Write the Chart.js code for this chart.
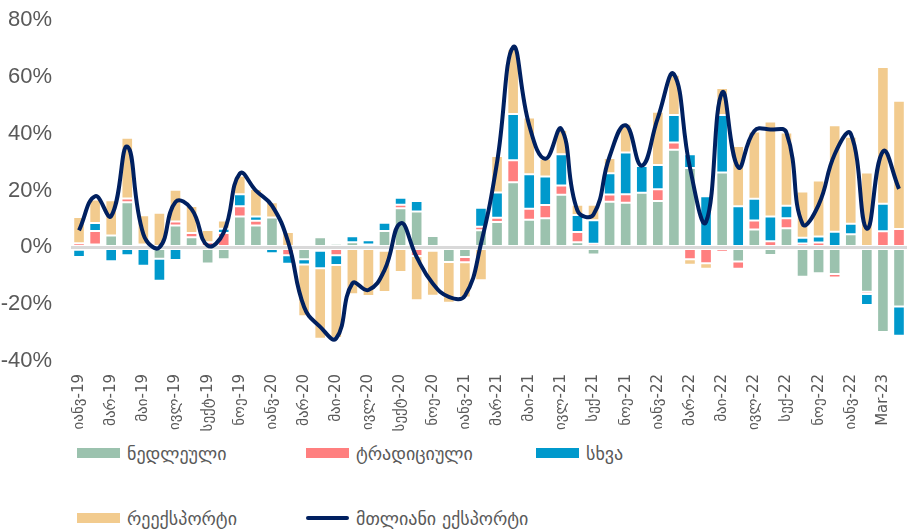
<!DOCTYPE html>
<html>
<head>
<meta charset="utf-8">
<script src="https://cdn.jsdelivr.net/npm/chart.js@4"></script>
<style>
  body { margin: 0; background: #fff; }
  #wrap { position: relative; width: 907px; height: 532px; overflow: hidden; }
  #chartBox { position: absolute; left: 0; top: -12px; width: 922px; height: 452px; }
  #legend { position: absolute; left: 0; top: 440px; width: 907px; height: 92px;
            font-family: 'DejaVu Sans', sans-serif; font-size: 18px; color: #595959; }
  .item { position: absolute; display: flex; align-items: center; height: 24px; white-space: nowrap; }
  .swatch { width: 43px; height: 10px; margin-right: 7px; }
  .swatch.line { height: 4px; border-radius: 2px; }
</style>
</head>
<body>
<div id="wrap">
  <div id="chartBox"><canvas id="exportChart"></canvas></div>
  <div id="legend"></div>
</div>
<script>
// months Jan-2019 .. Apr-2023
const months = [
  '19-01','19-02','19-03','19-04','19-05','19-06','19-07','19-08','19-09','19-10','19-11','19-12',
  '20-01','20-02','20-03','20-04','20-05','20-06','20-07','20-08','20-09','20-10','20-11','20-12',
  '21-01','21-02','21-03','21-04','21-05','21-06','21-07','21-08','21-09','21-10','21-11','21-12',
  '22-01','22-02','22-03','22-04','22-05','22-06','22-07','22-08','22-09','22-10','22-11','22-12',
  '23-01','23-02','23-03','23-04'
];

// every second month gets a label
const tickLabels = [
  'იანვ-19','მარ-19','მაი-19','ივლ-19','სექტ-19','ნოე-19',
  'იანვ-20','მარ-20','მაი-20','ივლ-20','სექტ-20','ნოე-20',
  'იანვ-21','მარ-21','მაი-21','ივლ-21','სექ-21','ნოე-21',
  'იანვ-22','მარ-22','მაი-22','ივლ-22','სექ-22','ნოე-22',
  'იანვ-22','Mar-23'
];

const seriesNames = ['ნედლეული', 'ტრადიციული', 'სხვა', 'რეექსპორტი', 'მთლიანი ექსპორტი'];
const seriesColors = ['#9BC2AE', '#FF7F7F', '#0099CC', '#F2CB8E', '#002060'];

const raw = [
  -0.8, 1, 4.2, 15.9, 1, -4, 7.7, 3.6, -5.7, -4.2, 10.9, 7.7,
  10.5, 0, -4.2, 3.6, 1.3, 1.8, 1, 5.8, 13.8, 12.6, 4, -5.1,
  -3.4, 6, 8.9, 22.9, 9.7, 10.3, 18.5, 1.8, -2.5, 16.1, 15.7, 19.2,
  16.3, 34.4, 28, 0, 26.4, -5, 6.3, -2.7, 6.7, -10.3, -9.1, -9.4,
  4.6, -15.6, -29.8, -20.8
];
const traditional = [
  1.5, 4.8, 0, 1.3, 0, 0, 1.4, 1.5, 1.8, 5.1, 3.6, 1.7,
  0, -2.8, 0, -1.2, -2.8, 0, 0, -1.2, 1.2, -3, -1.2, 1,
  -1.8, 1.3, 1.5, 7.8, 3.9, 4.6, 3.3, 3.6, 1.3, 2.5, 3, 0,
  4.2, 2.5, -4.2, -5.6, -1.5, -2.5, 3.2, 2.2, 3.6, 1.4, 1.7, -1.2,
  0, -0.8, 5.7, 6.5
];
const other = [
  -2.6, 2.8, -4.9, -2.8, -6.5, -7.7, -4.4, 0, 0, 1.5, 4.2, 1.5,
  -2.1, -3, -1.8, -6.1, -3.4, 2.1, 1.5, 2.9, 2.5, 3.7, 0, 0,
  0, 6.7, 8.9, 16.3, 12.2, 10.1, 11, 6, 8.3, 7.5, 14.7, 9.5,
  8.5, 9.7, 4.8, 18, 20.2, 14.5, 7.6, 8.7, 4.4, 2, 2.1, 5.5,
  3.7, -3.9, 9.7, -10.3
];
const reexport = [
  9.2, 8.3, 12.4, 21.4, 10.3, 12.2, 11.2, 9.5, 4.3, 2.9, 6.5, 9.7,
  5.4, 5.4, -18.2, -24.9, -25.7, -16.5, -17.1, -14.5, -8.7, -15.6, -15.8, -14.4,
  -12.4, -11.6, 12.9, 22.9, 19.9, 6.2, 8.5, 3.6, 5.4, 5.4, 10.1, 0,
  18.8, 14.2, -1.9, -1.9, 9.5, 21.2, 23.7, 33.4, 25.8, 16.3, 19.8, 37.5,
  30.7, 26.4, 48.1, 45.1
];
const total = [
  6, 18, 11, 35.5, 4.7, 0, 16, 13.5, 0.6, 5.3, 26, 20,
  14.7, 2, -21, -28, -32, -12.7, -15, -8, 8.5, -3.4, -12.7, -17.4,
  -17, 1.3, 30, 70.5, 43, 31.2, 41.7, 13, 11.6, 32, 43, 28.8,
  45.6, 61, 28, 9, 54.5, 28.2, 41, 41.5, 40.4, 8.3, 15, 32.8,
  40, 6.6, 33.8, 20.6
];

const barSeries = [raw, traditional, other, reexport];

function criarDatasets() {
  const sets = barSeries.map((values, i) => ({
    type: 'bar',
    label: seriesNames[i],
    data: values,
    backgroundColor: seriesColors[i],
    borderColor: '#ffffff',
    borderWidth: 1,
    borderSkipped: false,
    stack: 'parts',
    order: 1,
    categoryPercentage: 0.86,
    barPercentage: 0.84
  }));
  sets.push({
    type: 'line',
    label: seriesNames[4],
    data: total,
    borderColor: seriesColors[4],
    borderWidth: 4,
    pointRadius: 0,
    tension: 0.45,
    fill: false,
    stack: 'total',
    order: 0
  });
  return sets;
}

function montarLegenda() {
  const box = document.getElementById('legend');
  const cols = [77, 306, 536];
  const rows = [1, 66];
  seriesNames.forEach((name, i) => {
    const item = document.createElement('div');
    item.className = 'item';
    item.style.left = cols[i % 3] + 'px';
    item.style.top = rows[Math.floor(i / 3)] + 'px';
    const sw = document.createElement('span');
    sw.className = i === 4 ? 'swatch line' : 'swatch';
    sw.style.background = seriesColors[i];
    const txt = document.createElement('span');
    txt.textContent = name;
    item.appendChild(sw);
    item.appendChild(txt);
    box.appendChild(item);
  });
}

new Chart(document.getElementById('exportChart'), {
  data: { labels: months, datasets: criarDatasets() },
  options: {
    responsive: true,
    maintainAspectRatio: false,
    animation: false,
    layout: { padding: { top: 6, right: 0, left: 0, bottom: 0 } },
    plugins: { legend: { display: false }, tooltip: { enabled: false } },
    scales: {
      x: {
        stacked: true,
        grid: { display: false },
        border: { display: false },
        ticks: {
          autoSkip: false,
          minRotation: 90,
          maxRotation: 90,
          padding: 5,
          color: '#595959',
          font: { family: 'DejaVu Sans', size: 15 },
          callback: (v, i) => (i % 2 === 0 ? tickLabels[i / 2] : '')
        },
        afterFit: (scale) => { scale.height = 79; }
      },
      y: {
        stacked: true,
        min: -40,
        max: 80,
        border: { display: false },
        grid: {
          drawTicks: false,
          lineWidth: 3,
          color: (ctx) => (ctx.tick && ctx.tick.value === 0 ? '#D9D9D9' : 'rgba(0,0,0,0)')
        },
        ticks: {
          stepSize: 20,
          padding: 19,
          color: '#595959',
          font: { family: 'Liberation Sans', size: 22 },
          callback: (v) => v + '%'
        },
        afterFit: (scale) => { scale.width = 71; }
      }
    }
  }
});

montarLegenda();
</script>
</body>
</html>
